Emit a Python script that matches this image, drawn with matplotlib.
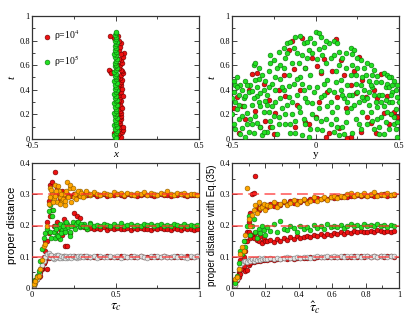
import matplotlib
matplotlib.use("Agg")
import matplotlib.pyplot as plt
from matplotlib.ticker import MultipleLocator, FuncFormatter

# ---------------- data: top-left (x, t) ----------------
red_tl_x = [0.020, 0.030, 0.015, 0.025, 0.040, 0.045, 0.020, 0.030, 0.012, 0.028,
            0.022, 0.035, 0.025, 0.030, 0.018, 0.035, 0.028, 0.020, 0.032, 0.025,
            0.015, 0.030, 0.022, 0.028, 0.018, 0.025, 0.032, 0.015, 0.022, 0.030,
            0.020, 0.035, 0.040, 0.028, 0.015, 0.034, 0.045, 0.040, 0.030, -0.030,
            -0.036, -0.025, 0.020, 0.028, 0.040, 0.035, 0.020, 0.045, 0.050, 0.030,
            0.022, 0.028, 0.032, 0.020, -0.008, -0.032, 0.012, 0.005, 0.008, 0.010,
            0.045, 0.040, 0.042, -0.010, 0.010, 0.038]
red_tl_t = [0.010, 0.020, 0.035, 0.045, 0.060, 0.075, 0.085, 0.100, 0.115, 0.130,
            0.145, 0.160, 0.175, 0.190, 0.200, 0.215, 0.230, 0.245, 0.260, 0.275,
            0.290, 0.305, 0.320, 0.340, 0.355, 0.370, 0.385, 0.400, 0.420, 0.435,
            0.450, 0.465, 0.480, 0.495, 0.505, 0.520, 0.540, 0.555, 0.560, 0.550,
            0.565, 0.535, 0.580, 0.600, 0.620, 0.640, 0.650, 0.670, 0.700, 0.690,
            0.720, 0.750, 0.780, 0.800, 0.820, 0.835, 0.840, 0.300, 0.200, 0.600,
            0.350, 0.250, 0.100, 0.050, 0.470, 0.410]

green_tl_t = [0.005, 0.020, 0.035, 0.050, 0.065, 0.080, 0.095, 0.110, 0.125, 0.140,
              0.155, 0.170, 0.185, 0.200, 0.215, 0.230, 0.245, 0.260, 0.275, 0.290,
              0.305, 0.320, 0.335, 0.350, 0.365, 0.380, 0.395, 0.410, 0.425, 0.440,
              0.455, 0.470, 0.485, 0.500, 0.515, 0.530, 0.545, 0.560, 0.575, 0.590,
              0.605, 0.620, 0.635, 0.650, 0.665, 0.680, 0.695, 0.710, 0.725, 0.740,
              0.755, 0.770, 0.785, 0.800, 0.815, 0.830, 0.845, 0.860, 0.870, 0.012]
green_tl_x = [-0.004, 0.005, -0.007, 0.002, 0.006, -0.003, 0.008, -0.006, 0.001, 0.004,
              -0.005, 0.007, -0.002, 0.003, -0.008, 0.005, 0.000, -0.004, 0.006, -0.006,
              0.002, 0.008, -0.003, 0.004, -0.007, 0.001, 0.006, -0.005, 0.003, -0.002,
              0.007, -0.006, 0.004, 0.000, -0.004, 0.005, -0.007, 0.002, 0.006, -0.003,
              0.004, -0.005, 0.001, 0.007, -0.002, 0.003, -0.006, 0.005, -0.001, 0.004,
              -0.004, 0.002, 0.006, -0.003, 0.001, 0.004, -0.002, 0.003, 0.000, 0.000]

# ---------------- data: top-right (y, t) ----------------
green_tr = [
    (-0.49, 0.38), (-0.47, 0.50), (-0.45, 0.44), (-0.48, 0.30), (-0.43, 0.33), (-0.46, 0.16),
    (-0.41, 0.21), (-0.44, 0.09), (-0.49, 0.12), (-0.42, 0.47), (-0.47, 0.24), (-0.40, 0.38),
    (-0.45, 0.04), (-0.41, 0.12), (-0.48, 0.44), (-0.43, 0.27), (-0.46, 0.36), (-0.42, 0.02),
    (-0.39, 0.44), (-0.37, 0.60), (-0.36, 0.62), (-0.34, 0.49), (-0.32, 0.52), (-0.38, 0.28),
    (-0.35, 0.35), (-0.31, 0.40), (-0.39, 0.16), (-0.36, 0.19), (-0.33, 0.10), (-0.37, 0.05),
    (-0.31, 0.22), (-0.34, 0.30), (-0.38, 0.39), (-0.32, 0.03), (-0.35, 0.13), (-0.30, 0.47),
    (-0.29, 0.36), (-0.27, 0.68), (-0.25, 0.64), (-0.28, 0.55), (-0.23, 0.58), (-0.26, 0.45),
    (-0.21, 0.49), (-0.24, 0.30), (-0.28, 0.22), (-0.22, 0.18), (-0.26, 0.10), (-0.29, 0.06),
    (-0.21, 0.33), (-0.24, 0.40), (-0.20, 0.25), (-0.27, 0.15), (-0.23, 0.04), (-0.22, 0.71),
    (-0.19, 0.74), (-0.17, 0.78), (-0.15, 0.79), (-0.12, 0.83), (-0.18, 0.66), (-0.14, 0.62),
    (-0.11, 0.70), (-0.16, 0.52), (-0.13, 0.45), (-0.19, 0.40), (-0.11, 0.36), (-0.17, 0.28),
    (-0.14, 0.20), (-0.18, 0.12), (-0.12, 0.15), (-0.15, 0.05), (-0.10, 0.26), (-0.16, 0.34),
    (-0.09, 0.84), (-0.07, 0.78), (-0.05, 0.79), (-0.03, 0.82), (-0.08, 0.68), (-0.04, 0.72),
    (-0.02, 0.70), (-0.06, 0.58), (-0.09, 0.50), (-0.03, 0.52), (-0.07, 0.40), (-0.01, 0.38),
    (-0.05, 0.30), (-0.09, 0.22), (-0.02, 0.20), (-0.06, 0.12), (-0.08, 0.03), (-0.03, 0.08),
    (0.00, 0.87), (0.02, 0.86), (0.03, 0.83), (0.05, 0.75), (0.08, 0.78), (0.01, 0.65),
    (0.06, 0.62), (0.09, 0.66), (0.03, 0.55), (0.07, 0.48), (0.01, 0.42), (0.05, 0.36),
    (0.09, 0.30), (0.02, 0.25), (0.06, 0.16), (0.04, 0.07), (0.09, 0.12), (0.00, 0.17),
    (0.11, 0.80), (0.13, 0.78), (0.14, 0.71), (0.16, 0.66), (0.11, 0.68), (0.18, 0.58),
    (0.12, 0.55), (0.15, 0.48), (0.19, 0.44), (0.11, 0.38), (0.17, 0.33), (0.13, 0.26),
    (0.19, 0.22), (0.12, 0.16), (0.16, 0.10), (0.14, 0.03), (0.18, 0.14), (0.15, 0.40),
    (0.21, 0.74), (0.23, 0.72), (0.22, 0.69), (0.27, 0.64), (0.25, 0.58), (0.21, 0.52),
    (0.28, 0.50), (0.24, 0.45), (0.29, 0.40), (0.22, 0.36), (0.26, 0.30), (0.21, 0.25),
    (0.28, 0.22), (0.24, 0.16), (0.27, 0.08), (0.22, 0.05), (0.29, 0.32), (0.25, 0.38),
    (0.31, 0.62), (0.33, 0.60), (0.35, 0.56), (0.37, 0.51), (0.32, 0.47), (0.39, 0.46),
    (0.34, 0.42), (0.38, 0.36), (0.31, 0.33), (0.36, 0.30), (0.33, 0.22), (0.39, 0.18),
    (0.31, 0.12), (0.35, 0.08), (0.38, 0.04), (0.34, 0.15), (0.37, 0.26), (0.32, 0.38),
    (0.41, 0.54), (0.43, 0.52), (0.45, 0.50), (0.47, 0.47), (0.49, 0.44), (0.42, 0.42),
    (0.46, 0.38), (0.49, 0.34), (0.44, 0.30), (0.41, 0.27), (0.48, 0.24), (0.45, 0.20),
    (0.42, 0.14), (0.47, 0.12), (0.44, 0.08), (0.49, 0.02), (0.46, 0.30), (0.43, 0.45),
    # second pass (denser cloud)
    (-0.50, 0.20), (-0.48, 0.08), (-0.46, 0.28), (-0.44, 0.40), (-0.42, 0.35), (-0.40, 0.06),
    (-0.44, 0.19), (-0.49, 0.47), (-0.41, 0.44), (-0.37, 0.33), (-0.35, 0.42), (-0.33, 0.27),
    (-0.38, 0.12), (-0.34, 0.58), (-0.31, 0.06), (-0.36, 0.48), (-0.30, 0.31), (-0.33, 0.37),
    (-0.28, 0.42), (-0.26, 0.27), (-0.24, 0.50), (-0.22, 0.12), (-0.27, 0.62), (-0.25, 0.19),
    (-0.20, 0.42), (-0.21, 0.60), (-0.29, 0.28), (-0.18, 0.20), (-0.16, 0.43), (-0.14, 0.30),
    (-0.12, 0.05), (-0.17, 0.70), (-0.13, 0.74), (-0.11, 0.49), (-0.15, 0.12), (-0.19, 0.58),
    (-0.10, 0.62), (-0.08, 0.45), (-0.06, 0.33), (-0.04, 0.42), (-0.07, 0.16), (-0.02, 0.29),
    (-0.05, 0.66), (-0.01, 0.78), (-0.04, 0.02), (0.01, 0.08), (0.03, 0.34), (0.05, 0.45),
    (0.07, 0.27), (0.02, 0.73), (0.04, 0.68), (0.06, 0.80), (0.08, 0.40), (0.03, 0.15),
    (0.10, 0.22), (0.12, 0.46), (0.14, 0.60), (0.16, 0.36), (0.18, 0.70), (0.13, 0.10),
    (0.17, 0.04), (0.19, 0.30), (0.11, 0.06), (0.20, 0.36), (0.23, 0.28), (0.25, 0.66),
    (0.27, 0.44), (0.29, 0.58), (0.22, 0.60), (0.26, 0.12), (0.28, 0.34), (0.24, 0.52),
    (0.30, 0.52), (0.33, 0.44), (0.35, 0.36), (0.37, 0.16), (0.32, 0.28), (0.39, 0.30),
    (0.36, 0.46), (0.34, 0.52), (0.38, 0.10), (0.40, 0.36), (0.42, 0.32), (0.44, 0.42),
    (0.46, 0.44), (0.48, 0.40), (0.50, 0.30), (0.45, 0.36), (0.47, 0.18), (0.43, 0.22),
    (0.41, 0.04), (0.48, 0.08), (0.44, 0.50), (0.49, 0.14), (-0.50, 0.33), (-0.47, 0.42),
]
red_tr = [
    (-0.49, 0.25), (-0.46, 0.05), (-0.44, 0.27), (-0.42, 0.16), (-0.47, 0.34), (-0.38, 0.53),
    (-0.35, 0.54), (-0.33, 0.10), (-0.30, 0.15), (-0.36, 0.23), (-0.27, 0.10), (-0.25, 0.04),
    (-0.28, 0.32), (-0.22, 0.40), (-0.19, 0.52), (-0.18, 0.35), (-0.16, 0.72), (-0.14, 0.80),
    (-0.13, 0.57), (-0.11, 0.28), (-0.08, 0.82), (-0.06, 0.14), (-0.04, 0.12), (-0.02, 0.66),
    (0.00, 0.18), (0.01, 0.59), (0.03, 0.54), (0.05, 0.65), (0.06, 0.02), (0.08, 0.05),
    (0.10, 0.55), (0.12, 0.81), (0.13, 0.34), (0.15, 0.64), (0.17, 0.52), (0.19, 0.01),
    (0.21, 0.02), (0.23, 0.55), (0.24, 0.37), (0.26, 0.67), (0.28, 0.48), (0.30, 0.34),
    (0.31, 0.18), (0.33, 0.13), (0.35, 0.40), (0.37, 0.33), (0.39, 0.53), (0.41, 0.21),
    (0.43, 0.35), (0.45, 0.20), (0.47, 0.22), (0.49, 0.18), (-0.40, 0.40), (-0.24, 0.21),
    (-0.09, 0.40), (0.02, 0.30), (0.18, 0.25), (0.27, 0.06), (0.44, 0.12), (-0.31, 0.45),
    (-0.12, 0.10), (0.07, 0.38), (0.21, 0.44), (0.36, 0.05), (-0.06, 0.58), (0.14, 0.09),
]

# ---------------- data: bottom-left (tau_c) ----------------
tau_l = [0.01, 0.02, 0.03, 0.04, 0.05, 0.06, 0.07, 0.08, 0.09, 0.10,
         0.11, 0.12, 0.13, 0.14, 0.15, 0.16, 0.17, 0.18, 0.19, 0.20,
         0.21, 0.23, 0.25, 0.27, 0.29, 0.31, 0.33, 0.35, 0.37, 0.39,
         0.41, 0.43, 0.45, 0.47, 0.49, 0.51, 0.53, 0.55, 0.57, 0.59,
         0.61, 0.63, 0.65, 0.67, 0.69, 0.71, 0.73, 0.75, 0.77, 0.79,
         0.81, 0.83, 0.85, 0.87, 0.89, 0.91, 0.93, 0.95, 0.97, 0.99]
grey_l = [0.010, 0.018, 0.030, 0.045, 0.062, 0.075, 0.088, 0.100, 0.108, 0.112,
          0.105, 0.098, 0.094, 0.102, 0.106, 0.097, 0.101, 0.095, 0.103, 0.099,
          0.097, 0.103, 0.100, 0.096, 0.102, 0.099, 0.104, 0.098, 0.101, 0.097,
          0.103, 0.100, 0.098, 0.102, 0.099, 0.101, 0.097, 0.103, 0.100, 0.098,
          0.102, 0.099, 0.104, 0.100, 0.097, 0.102, 0.099, 0.101, 0.098, 0.103,
          0.100, 0.099, 0.102, 0.098, 0.101, 0.100, 0.097, 0.102, 0.099, 0.101]
green_l = [0.012, 0.025, 0.040, 0.055, 0.085, 0.125, 0.160, 0.175, 0.190, 0.245,
           0.265, 0.230, 0.180, 0.160, 0.170, 0.195, 0.158, 0.185, 0.205, 0.190,
           0.205, 0.180, 0.200, 0.210, 0.195, 0.205, 0.190, 0.208, 0.200, 0.203,
           0.198, 0.206, 0.201, 0.197, 0.204, 0.200, 0.207, 0.199, 0.202, 0.205,
           0.200, 0.203, 0.198, 0.206, 0.201, 0.204, 0.199, 0.202, 0.205, 0.200,
           0.203, 0.199, 0.206, 0.201, 0.198, 0.204, 0.200, 0.202, 0.199, 0.201]
orange_l = [0.012, 0.022, 0.035, 0.040, 0.060, 0.090, 0.135, 0.140, 0.200, 0.270,
            0.320, 0.300, 0.285, 0.330, 0.275, 0.310, 0.290, 0.280, 0.300, 0.265,
            0.340, 0.320, 0.290, 0.305, 0.310, 0.296, 0.303, 0.298, 0.306, 0.300,
            0.297, 0.304, 0.301, 0.299, 0.306, 0.300, 0.303, 0.298, 0.305, 0.301,
            0.299, 0.304, 0.300, 0.307, 0.298, 0.303, 0.301, 0.299, 0.305, 0.300,
            0.312, 0.302, 0.299, 0.304, 0.300, 0.303, 0.298, 0.301, 0.300, 0.297]
red3_l = [0.010, 0.020, 0.030, 0.035, 0.040, 0.060, 0.100, 0.150, 0.210, 0.280,
          0.330, 0.340, 0.290, 0.370, 0.320, 0.300, 0.285, 0.310, 0.295, 0.305,
          0.300, 0.295, 0.302, 0.298, 0.296, 0.300, 0.297, 0.299, 0.301, 0.296,
          0.298, 0.300, 0.296, 0.299, 0.297, 0.301, 0.298, 0.296, 0.300, 0.297,
          0.299, 0.296, 0.298, 0.300, 0.297, 0.299, 0.296, 0.298, 0.300, 0.297,
          0.298, 0.296, 0.299, 0.297, 0.300, 0.298, 0.296, 0.299, 0.297, 0.298]
red2_l = [0.012, 0.025, 0.030, 0.045, 0.050, 0.065, 0.080, 0.120, 0.150, 0.175,
          0.230, 0.250, 0.200, 0.180, 0.210, 0.160, 0.190, 0.170, 0.220, 0.135,
          0.135, 0.175, 0.240, 0.232, 0.225, 0.195, 0.190, 0.193, 0.188, 0.192,
          0.190, 0.194, 0.187, 0.191, 0.189, 0.193, 0.188, 0.190, 0.192, 0.187,
          0.191, 0.188, 0.193, 0.189, 0.190, 0.186, 0.192, 0.189, 0.191, 0.188,
          0.190, 0.187, 0.192, 0.189, 0.186, 0.191, 0.188, 0.190, 0.187, 0.189]
red1_l = [0.010, 0.020, 0.032, 0.045, 0.058, 0.070, 0.080, 0.088, 0.060, 0.095,
          0.100, 0.103, 0.097, 0.101, 0.099, 0.102, 0.098, 0.100, 0.101, 0.099,
          0.100, 0.098, 0.101, 0.099, 0.100, 0.102, 0.099, 0.100, 0.098, 0.101,
          0.100, 0.099, 0.101, 0.100, 0.098, 0.100, 0.101, 0.099, 0.100, 0.102,
          0.099, 0.100, 0.101, 0.098, 0.100, 0.099, 0.101, 0.100, 0.099, 0.101,
          0.100, 0.098, 0.100, 0.101, 0.099, 0.100, 0.102, 0.099, 0.100, 0.101]
# transient clouds (extra points)
cloud_tau_l = [0.105, 0.115, 0.125, 0.135, 0.145, 0.155, 0.165, 0.175, 0.185, 0.195,
               0.205, 0.215, 0.225, 0.235, 0.245, 0.255, 0.265, 0.275, 0.285, 0.295,
               0.305, 0.325, 0.345]
cloud_orange_l = [0.290, 0.315, 0.275, 0.295, 0.310, 0.325, 0.270, 0.300, 0.285, 0.280,
                  0.310, 0.290, 0.330, 0.275, 0.320, 0.300, 0.285, 0.310, 0.295, 0.305,
                  0.290, 0.310, 0.300]
cloud_green_l = [0.180, 0.160, 0.250, 0.200, 0.190, 0.165, 0.205, 0.175, 0.200, 0.180,
                 0.210, 0.195, 0.165, 0.200, 0.210, 0.190, 0.205, 0.210, 0.198, 0.206,
                 0.200, 0.196, 0.204]
cloud_grey_l = [0.100, 0.107, 0.096, 0.104, 0.099, 0.105, 0.097, 0.102, 0.100, 0.096,
                0.103, 0.099, 0.101, 0.097, 0.102, 0.100, 0.098, 0.103, 0.099, 0.101,
                0.098, 0.102, 0.100]

# ---------------- data: bottom-right (tau_c hat) ----------------
tau_r = [0.02, 0.03, 0.04, 0.05, 0.06, 0.07, 0.08, 0.09, 0.10, 0.11,
         0.12, 0.13, 0.14, 0.15, 0.16, 0.17, 0.18, 0.19, 0.20, 0.21,
         0.23, 0.25, 0.27, 0.29, 0.31, 0.33, 0.35, 0.37, 0.39, 0.41,
         0.43, 0.45, 0.47, 0.49, 0.51, 0.53, 0.55, 0.57, 0.59, 0.61,
         0.63, 0.65, 0.67, 0.69, 0.71, 0.73, 0.75, 0.77, 0.79, 0.81,
         0.83, 0.85, 0.87, 0.89, 0.91, 0.93, 0.95, 0.97]
orange_r = [0.030, 0.035, 0.060, 0.110, 0.130, 0.120, 0.170, 0.320, 0.220, 0.200,
            0.235, 0.250, 0.265, 0.240, 0.275, 0.255, 0.260, 0.270, 0.250, 0.265,
            0.262, 0.275, 0.258, 0.270, 0.280, 0.265, 0.272, 0.283, 0.268, 0.277,
            0.285, 0.272, 0.280, 0.290, 0.278, 0.286, 0.292, 0.282, 0.290, 0.295,
            0.288, 0.296, 0.292, 0.300, 0.305, 0.294, 0.300, 0.297, 0.303, 0.296,
            0.300, 0.306, 0.295, 0.302, 0.298, 0.304, 0.297, 0.301]
green_r = [0.015, 0.040, 0.080, 0.120, 0.110, 0.150, 0.130, 0.200, 0.230, 0.170,
           0.200, 0.220, 0.180, 0.160, 0.190, 0.175, 0.200, 0.185, 0.170, 0.195,
           0.182, 0.205, 0.178, 0.215, 0.190, 0.185, 0.200, 0.192, 0.180, 0.198,
           0.188, 0.196, 0.185, 0.202, 0.192, 0.198, 0.190, 0.205, 0.195, 0.200,
           0.196, 0.203, 0.193, 0.200, 0.206, 0.197, 0.201, 0.195, 0.204, 0.199,
           0.202, 0.197, 0.205, 0.199, 0.201, 0.196, 0.203, 0.200]
grey_r = [0.010, 0.030, 0.060, 0.075, 0.080, 0.085, 0.088, 0.082, 0.090, 0.086,
          0.092, 0.088, 0.094, 0.090, 0.095, 0.091, 0.093, 0.096, 0.092, 0.094,
          0.095, 0.092, 0.097, 0.094, 0.096, 0.098, 0.095, 0.097, 0.099, 0.096,
          0.098, 0.100, 0.097, 0.099, 0.101, 0.098, 0.100, 0.102, 0.099, 0.101,
          0.100, 0.102, 0.099, 0.101, 0.103, 0.100, 0.102, 0.099, 0.101, 0.103,
          0.100, 0.102, 0.099, 0.101, 0.103, 0.100, 0.102, 0.101]
red3_r = [0.025, 0.030, 0.050, 0.090, 0.110, 0.120, 0.150, 0.180, 0.210, 0.240,
          0.300, 0.305, 0.360, 0.260, 0.250, 0.255, 0.262, 0.258, 0.265, 0.260,
          0.268, 0.262, 0.270, 0.266, 0.274, 0.270, 0.277, 0.273, 0.280, 0.276,
          0.282, 0.279, 0.285, 0.281, 0.287, 0.284, 0.289, 0.286, 0.291, 0.288,
          0.292, 0.290, 0.294, 0.292, 0.296, 0.293, 0.297, 0.294, 0.298, 0.295,
          0.298, 0.296, 0.299, 0.297, 0.300, 0.296, 0.299, 0.297]
red2_r = [0.020, 0.030, 0.045, 0.060, 0.080, 0.100, 0.120, 0.150, 0.180, 0.160,
          0.170, 0.160, 0.175, 0.155, 0.150, 0.165, 0.145, 0.158, 0.150, 0.152,
          0.155, 0.148, 0.158, 0.152, 0.160, 0.155, 0.162, 0.157, 0.165, 0.160,
          0.163, 0.168, 0.162, 0.170, 0.165, 0.172, 0.167, 0.174, 0.170, 0.176,
          0.172, 0.178, 0.174, 0.180, 0.176, 0.182, 0.178, 0.184, 0.180, 0.178,
          0.183, 0.179, 0.185, 0.181, 0.178, 0.184, 0.180, 0.182]
red1_r = [0.010, 0.025, 0.035, 0.045, 0.060, 0.070, 0.055, 0.058, 0.075, 0.080,
          0.085, 0.082, 0.088, 0.086, 0.090, 0.088, 0.091, 0.089, 0.092, 0.090,
          0.093, 0.091, 0.094, 0.092, 0.095, 0.093, 0.096, 0.094, 0.097, 0.095,
          0.097, 0.096, 0.098, 0.097, 0.099, 0.098, 0.100, 0.098, 0.100, 0.099,
          0.100, 0.099, 0.101, 0.100, 0.099, 0.101, 0.100, 0.102, 0.100, 0.101,
          0.100, 0.102, 0.099, 0.101, 0.100, 0.102, 0.101, 0.100]

ref_levels = [0.1, 0.2, 0.3]
legend_labels = ["\u03c1=10$^4$", "\u03c1=10$^5$"]

# ---------------- styling ----------------
RED = dict(facecolor="#ee1111", edgecolor="#6a0000")
GREEN = dict(facecolor="#22e022", edgecolor="#0a700a")
ORANGE = dict(facecolor="#ffa500", edgecolor="#8a5a00")
GREY = dict(facecolor="#e4e4e4", edgecolor="#7a7a7a")
MS = 12
LW = 0.4

plt.rcParams["mathtext.fontset"] = "stix"
SERIF = "Liberation Serif"
SANS = "Liberation Sans"

fig = plt.figure(figsize=(4.15, 3.21), dpi=100)
W, H = 415.0, 321.0


def axes_px(x0, y0, x1, y1):
    return fig.add_axes([x0 / W, 1 - y1 / H, (x1 - x0) / W, (y1 - y0) / H])


ax1 = axes_px(32, 16, 199, 139)
ax2 = axes_px(232, 16, 399, 139)
ax3 = axes_px(32, 163, 199, 288)
ax4 = axes_px(232, 163, 399, 288)


def fmt(v, pos):
    if abs(v) < 1e-9:
        return "0"
    if abs(v - round(v)) < 1e-9:
        return "%d" % round(v)
    return "%g" % v


def style(ax, xmaj, xmin, ymaj, ymin):
    ax.xaxis.set_major_locator(MultipleLocator(xmaj))
    ax.xaxis.set_minor_locator(MultipleLocator(xmin))
    ax.yaxis.set_major_locator(MultipleLocator(ymaj))
    ax.yaxis.set_minor_locator(MultipleLocator(ymin))
    ax.xaxis.set_major_formatter(FuncFormatter(fmt))
    ax.yaxis.set_major_formatter(FuncFormatter(fmt))
    ax.tick_params(which="both", direction="in", top=True, right=True,
                   labelsize=6, width=0.7, color="#444444")
    ax.tick_params(axis="x", pad=2.5)
    ax.tick_params(axis="y", pad=1.5)
    ax.tick_params(which="major", length=3.5)
    ax.tick_params(which="minor", length=2)
    for lab in ax.get_xticklabels() + ax.get_yticklabels():
        lab.set_fontfamily(SERIF)
    for s in ax.spines.values():
        s.set_linewidth(0.9)
        s.set_color("#333333")


# top-left
ax1.scatter(red_tl_x, red_tl_t, s=MS, linewidths=LW, label=legend_labels[0], zorder=3, **RED)
ax1.scatter(green_tl_x, green_tl_t, s=MS, linewidths=LW, label=legend_labels[1], zorder=4, **GREEN)
ax1.set_xlim(-0.5, 0.5)
ax1.set_ylim(0, 1)
style(ax1, 0.5, 0.25, 0.2, 0.1)
ax1.set_xlabel("x", fontfamily=SERIF, style="italic", fontsize=8, labelpad=0)
ax1.set_ylabel("t", fontfamily=SERIF, style="italic", fontsize=8, labelpad=2)
ax1.legend(loc="upper left", bbox_to_anchor=(0.03, 0.93), frameon=False,
           prop={"family": SERIF, "size": 7}, handletextpad=0.1,
           labelspacing=1.0, borderaxespad=0, handlelength=1.2)

# top-right
ax2.scatter([p[0] for p in red_tr], [p[1] for p in red_tr], s=MS, linewidths=LW, zorder=3, **RED)
ax2.scatter([p[0] for p in green_tr], [p[1] for p in green_tr], s=MS, linewidths=LW, zorder=4, **GREEN)
ax2.set_xlim(-0.5, 0.5)
ax2.set_ylim(0, 1)
style(ax2, 0.5, 0.25, 0.2, 0.1)
ax2.set_xlabel("y", fontfamily=SERIF, fontsize=8, labelpad=0)
ax2.set_ylabel("t", fontfamily=SERIF, style="italic", fontsize=8, labelpad=2)

# bottom-left
for ys in (red3_l, red2_l, red1_l):
    ax3.scatter(tau_l, ys, s=MS, linewidths=LW, zorder=3, **RED)
ax3.scatter(tau_l, grey_l, s=MS, linewidths=LW, zorder=4, **GREY)
ax3.scatter(cloud_tau_l, cloud_grey_l, s=MS, linewidths=LW, zorder=4, **GREY)
ax3.scatter(tau_l, green_l, s=MS, linewidths=LW, zorder=4, **GREEN)
ax3.scatter(cloud_tau_l, cloud_green_l, s=MS, linewidths=LW, zorder=4, **GREEN)
ax3.scatter(tau_l, orange_l, s=MS, linewidths=LW, zorder=4, **ORANGE)
ax3.scatter(cloud_tau_l, cloud_orange_l, s=MS, linewidths=LW, zorder=4, **ORANGE)
ax3.set_xlim(0, 1)
ax3.set_ylim(0, 0.4)
style(ax3, 0.5, 0.25, 0.1, 0.05)
ax3.set_xlabel(r"$\tau_c$", fontsize=10, labelpad=0)
ax3.set_ylabel("proper distance", fontfamily=SANS, fontsize=8, labelpad=2)

# bottom-right
for ys in (red3_r, red2_r, red1_r):
    ax4.scatter(tau_r, ys, s=MS, linewidths=LW, zorder=3, **RED)
ax4.scatter(tau_r, grey_r, s=MS, linewidths=LW, zorder=4, **GREY)
ax4.scatter(tau_r, green_r, s=MS, linewidths=LW, zorder=4, **GREEN)
ax4.scatter(tau_r, orange_r, s=MS, linewidths=LW, zorder=4, **ORANGE)
ax4.set_xlim(0, 1)
ax4.set_ylim(0, 0.4)
style(ax4, 0.2, 0.1, 0.1, 0.05)
ax4.set_xlabel(r"$\hat{\tau}_c$", fontsize=10, labelpad=0)
ax4.set_ylabel("proper distance with Eq.(35)", fontfamily=SANS, fontsize=7, labelpad=2)

for ax in (ax3, ax4):
    for lv in ref_levels:
        ax.axhline(lv, color="#ff3030", alpha=0.7, lw=1.3, dashes=(6, 3), zorder=5)

fig.savefig("out.png", dpi=100)
